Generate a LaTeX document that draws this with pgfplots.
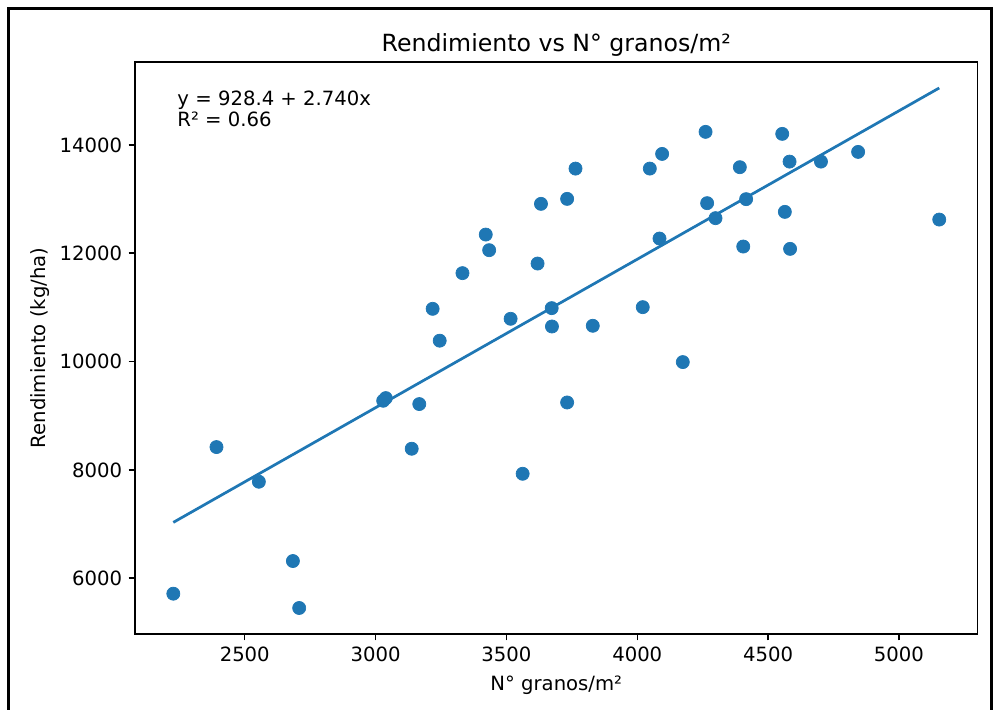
\documentclass[border=0pt]{standalone}
\usepackage{fontspec}
\setmainfont{DejaVu Sans}
\usepackage{pgfplots}
\pgfplotsset{compat=1.18}
\definecolor{tabblue}{HTML}{1F77B4}

\begin{document}
\begin{tikzpicture}
% 1 px of the reference = 0.55pt
\useasboundingbox (0,0) rectangle (546.7pt,390.5pt);
\draw[line width=1.65pt] (4.675pt,-2pt) -- (4.675pt,385.8pt) -- (545.3pt,385.8pt) -- (545.3pt,-2pt);
\begin{axis}[
  at={(74.25pt,41.8pt)}, anchor=south west,
  scale only axis, width=463.4pt, height=314.6pt,
  xmin=2080.6, xmax=5300.4, ymin=4970, ymax=15530,
  xtick={2500,3000,...,5000}, ytick={6000,8000,...,14000},
  scaled ticks=false,
  tick align=outside, tick pos=left, major tick length=3.5pt,
  tick style={line width=0.8pt, black},
  axis line style={line width=0.8pt},
  /pgf/number format/assume math mode=true,
  /pgf/number format/1000 sep={},
  /pgf/number format/fixed,
  ticklabel style={font=\fontsize{10.8}{13}\selectfont},
  xlabel={N° granos/m²}, ylabel={Rendimiento (kg/ha)},
  label style={font=\fontsize{10.8}{13}\selectfont},
  xlabel style={yshift=-1pt},
  ylabel style={yshift=-1.5pt},
  title={Rendimiento vs N° granos/m²},
  title style={font=\fontsize{13}{15.6}\selectfont, yshift=-6.5pt},
]
\addplot[only marks, mark=*, mark size=3.6pt, color=tabblue] coordinates {
  (2227,5714) (2392,8421) (2554,7781) (2684,6317) (2708,5450)
  (3029,9276) (3039,9325) (3138,8390) (3167,9215) (3218,10973)
  (3245,10385) (3332,11632) (3421,12344) (3434,12056) (3516,10789)
  (3562,7928) (3619,11809) (3632,12911) (3673,10986) (3674,10647)
  (3732,13003) (3732,9244) (3764,13562) (3830,10660) (4021,11004)
  (4048,13562) (4085,12271) (4095,13833) (4174,9990) (4261,14240)
  (4267,12924) (4299,12647) (4392,13588) (4405,12123) (4416,12998)
  (4554,14203) (4564,12763) (4582,13691) (4584,12080) (4702,13691)
  (4844,13870) (5154,12621)
};
\addplot[tabblue, line width=1.5pt] coordinates {(2227,7030.4) (5154,15050.4)};
\node[anchor=north west, inner sep=0pt, align=left, font=\fontsize{10.8}{11.6}\selectfont]
  at (rel axis cs:0.05,0.95) {y = 928.4 + 2.740x\\R² = 0.66};
\end{axis}
\end{tikzpicture}
\end{document}
